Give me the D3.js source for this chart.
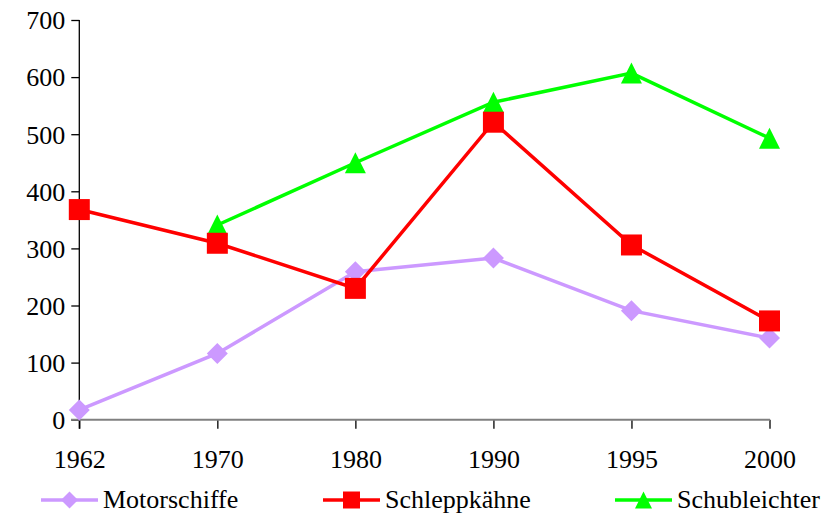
<!DOCTYPE html>
<html><head><meta charset="utf-8">
<script src="https://cdn.jsdelivr.net/npm/d3@7"></script>
<style>body{margin:0;background:#fff}svg{display:block}text{font-family:"Liberation Serif","Times New Roman",serif;fill:#000}</style>
</head><body><svg id="c" width="831" height="515"></svg>
<script>
const years = ["1962","1970","1980","1990","1995","2000"];
const yTicks = [0,100,200,300,400,500,600,700];
const motorschiffe = [17,116,259,283,191,143];
const schleppkaehne = [368,309,230,521,306,173];
const schubleichter = [null,341,450,556,607,493];
const seriesNames = ["Motorschiffe","Schleppkähne","Schubleichter"];
const seriesColors = ["#CC99FF","#FF0000","#00FF00"];
const seriesShapes = ["diamond","square","triangle"];

const svg = d3.select("#c");
const x = d3.scalePoint().domain(years).range([79.3, 769.5]).padding(0);
const y = d3.scaleLinear().domain([0,700]).range([419.7, 20]);

// y axis
const ya = svg.append("g").attr("transform","translate(79.3,0)")
  .call(d3.axisLeft(y).tickValues(yTicks).tickSize(8).tickPadding(6).tickFormat(d3.format("d")));
ya.select(".domain").remove();
ya.selectAll(".tick line").attr("stroke","#000").attr("stroke-width",1.3);
ya.selectAll(".tick text").attr("font-size","26px").attr("dy","0.34em").attr("x",-14);
svg.append("line").attr("x1",79.3).attr("x2",79.3).attr("y1",y(700)).attr("y2",y(0)+9).attr("stroke","#000").attr("stroke-width",1.3);

// x axis
const xa = svg.append("g").attr("transform","translate(0,419.7)")
  .call(d3.axisBottom(x).tickSize(9).tickPadding(0));
xa.select(".domain").remove();
xa.selectAll(".tick line").attr("stroke","#000").attr("stroke-width",1.3);
xa.selectAll(".tick text").attr("font-size","26px").attr("dy",0).attr("y",48);
svg.append("line").attr("x1",71).attr("x2",770).attr("y1",y(0)).attr("y2",y(0)).attr("stroke","#808080").attr("stroke-width",2);

function sym(shape, s){
  if(shape==="square") return `M${-s/2},${-s/2}h${s}v${s}h${-s}Z`;
  if(shape==="diamond") return `M0,${-s/2}L${s/2},0L0,${s/2}L${-s/2},0Z`;
  return `M0,${-s/2}L${s/2},${s/2}L${-s/2},${s/2}Z`;
}
const data = [motorschiffe, schleppkaehne, schubleichter];
const order = [0,2,1];
order.forEach(i=>{
  const pts = years.map((yr,j)=>({yr, v:data[i][j]})).filter(d=>d.v!=null);
  const line = d3.line().x(d=>x(d.yr)).y(d=>y(d.v));
  svg.append("path").datum(pts).attr("d",line).attr("fill","none")
    .attr("stroke",seriesColors[i]).attr("stroke-width",3.5).attr("stroke-linejoin","miter");
  const size = seriesShapes[i]==="diamond" ? 21 : (seriesShapes[i]==="square"?21:21);
  svg.selectAll(null).data(pts).enter().append("path")
    .attr("transform",d=>`translate(${x(d.yr)},${y(d.v)})`)
    .attr("d",sym(seriesShapes[i], seriesShapes[i]==="triangle"?21:size))
    .attr("fill",seriesColors[i]);
});

// legend
const legX = [41, 323, 615];
seriesNames.forEach((n,i)=>{
  const g = svg.append("g").attr("transform",`translate(${legX[i]},500)`);
  g.append("line").attr("x1",0).attr("x2",57).attr("y1",0).attr("y2",0).attr("stroke",seriesColors[i]).attr("stroke-width",3.5);
  g.append("path").attr("transform","translate(28.5,0)").attr("d",sym(seriesShapes[i],17)).attr("fill",seriesColors[i]);
  g.append("text").attr("x",62).attr("y",7.5).attr("font-size","26px").text(n);
});
</script></body></html>
